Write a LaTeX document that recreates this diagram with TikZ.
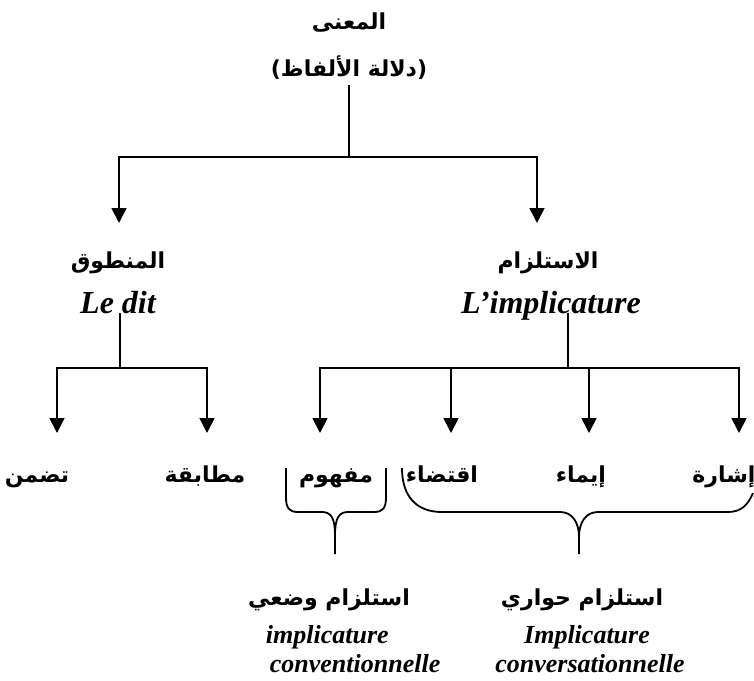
\documentclass[tikz,border=0pt]{standalone}
\usepackage{fontspec}
\setmainfont{Liberation Serif}
\newfontfamily\arabicfont[Script=Arabic]{DejaVu Sans}
\newfontfamily\parenfont{DejaVu Sans}
\TeXXeTstate=1
\usetikzlibrary{arrows.meta}
\newcommand{\artext}[1]{{\arabicfont\bfseries\beginR #1\endR}}

\begin{document}
\begin{tikzpicture}[x = 0.5pt, y = -0.5pt, line width = 0.9pt,
  ar/.style = {font = \fontsize{11}{13}\selectfont, inner sep = 0pt, anchor = base},
  lat/.style = {font = \fontsize{16}{19}\selectfont\bfseries\itshape, inner sep = 0pt, anchor = base},
  latsmall/.style = {font = \fontsize{13}{16}\selectfont\bfseries\itshape, inner sep = 0pt, anchor = base}]
  \tikzset{arr/.style = {-{Triangle[length = 7.5pt, width = 7.5pt]}}}

  \useasboundingbox (0,0) rectangle (754,680);

  \node[ar] (maana) at (349,29) {\artext{المعنى}};
  \node[ar] (dalala) at (349,76) {{\parenfont\bfseries(}\artext{دلالة الألفاظ}{\parenfont\bfseries)}};

  \node[ar] (mantuq) at (118,268) {\artext{المنطوق}};
  \node[lat] (ledit) at (118,313) {Le dit};
  \node[ar] (istilzam) at (548,268) {\artext{الاستلزام}};
  \node[lat] (limpl) at (551,313) {L’implicature};

  \node[ar] (tadammun) at (37,482) {\artext{تضمن}};
  \node[ar] (mutabaqa) at (205,482) {\artext{مطابقة}};
  \node[ar] (mafhum) at (336,482) {\artext{مفهوم}};
  \node[ar] (iqtida) at (442,482) {\artext{اقتضاء}};
  \node[ar] (iima) at (581,482) {\artext{إيماء}};
  \node[ar] (ishara) at (724,482) {\artext{إشارة}};

  \node[ar] (wadi) at (329,605) {\artext{استلزام وضعي}};
  \node[latsmall, anchor = base west] (conv1) at (265,643) {implicature};
  \node[latsmall, anchor = base west] (conv2) at (269,672) {conventionnelle};
  \node[ar] (hiwari) at (582,605) {\artext{استلزام حواري}};
  \node[latsmall] (convs1) at (587,643) {Implicature};
  \node[latsmall] (convs2) at (590,672) {conversationnelle};

  \coordinate (j0) at (349,157);
  \coordinate (a1) at (119,223);
  \coordinate (a2) at (537,223);
  \coordinate (j1) at (120,368);
  \coordinate (b1) at (57,433);
  \coordinate (b2) at (207,433);
  \coordinate (j2) at (568,368);
  \coordinate (b3) at (320,433);
  \coordinate (b4) at (451,433);
  \coordinate (b5) at (589,433);
  \coordinate (b6) at (739,433);

  \draw ([yshift = -2.5pt]dalala.south) -- (j0);
  \draw[arr] (j0) -| (a1);
  \draw[arr] (j0) -| (a2);

  \draw (ledit.base -| j1) -- (j1);
  \draw[arr] (j1) -| (b1);
  \draw[arr] (j1) -| (b2);

  \draw (limpl.base -| j2) -- (j2);
  \draw[arr] (j2) -| (b3);
  \draw[arr] (j2) -| (b4);
  \draw[arr] (j2) -| (b5);
  \draw[arr] (j2) -| (b6);

  % braces
  \draw (286,468) -- (286,497) .. controls (286,508) and (289,512) .. (298,512) -- (322,512)
    .. controls (331,512) and (335,518) .. (335,535) -- (335,554)
    (335,535) .. controls (335,518) and (339,512) .. (348,512) -- (374,512)
    .. controls (383,512) and (386,508) .. (386,497) -- (386,468);
  \draw (402,468) .. controls (402,496) and (416,512) .. (442,512) -- (560,512)
    .. controls (572,512) and (579,522) .. (579,537) -- (579,554)
    (579,537) .. controls (579,522) and (586,512) .. (598,512) -- (728,512)
    .. controls (741,512) and (748,505) .. (753,493);
\end{tikzpicture}
\end{document}
